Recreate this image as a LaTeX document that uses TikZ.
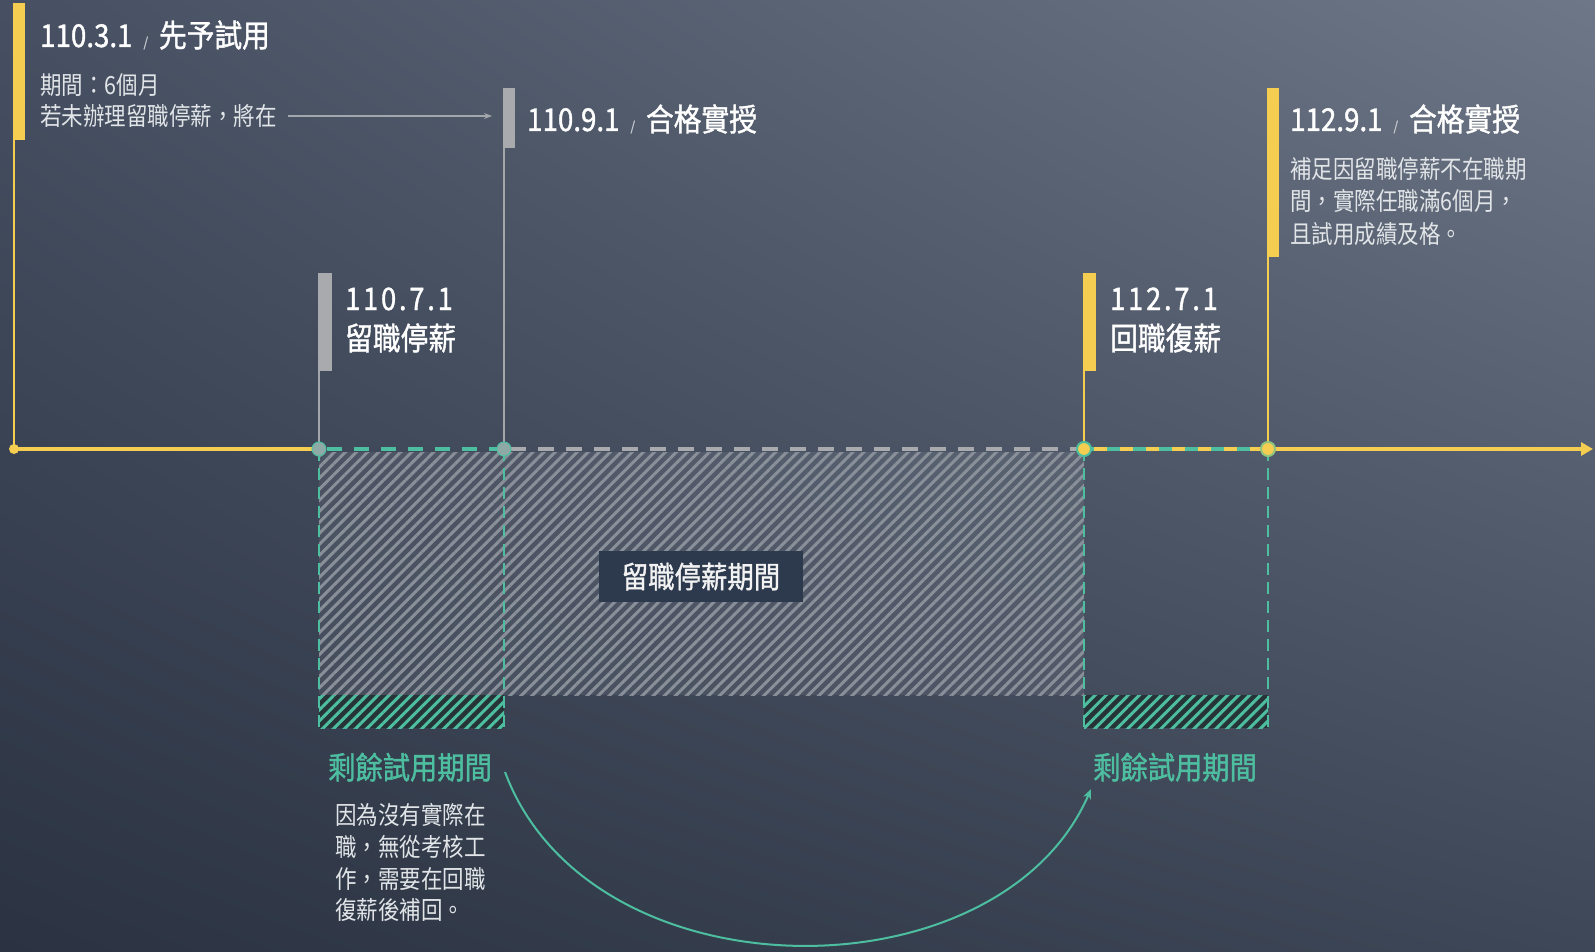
\documentclass[tikz,border=0pt]{standalone}
\usepackage{fontspec}
\setmainfont{Noto Sans CJK TC}
\newfontfamily\titlefam{Noto Sans CJK TC}[FakeStretch=0.88,FakeBold=1.2]
\newfontfamily\bodyfam{Noto Sans CJK TC}[FakeStretch=0.86]
\newfontfamily\datefam{Noto Sans CJK TC}[FakeStretch=0.88,FakeBold=1.2,LetterSpace=9]
\usetikzlibrary{arrows.meta,patterns.meta,shadings}
\definecolor{ylw}{HTML}{F5CD50}
\definecolor{tl}{HTML}{4DBFA0}
\definecolor{gbar}{HTML}{A8AAAD}
\definecolor{gline}{HTML}{A3A6AB}
\definecolor{bodytxt}{HTML}{E2E5E8}
\definecolor{hatchgray}{HTML}{8A909A}
\definecolor{labelbox}{HTML}{2D3A4E}
\definecolor{greenbg}{HTML}{263438}
\definecolor{dotgray}{HTML}{8FA9A6}
\definecolor{sepc}{HTML}{C8CBD0}
\definecolor{bgTL}{HTML}{465062}
\definecolor{bgTR}{HTML}{6E7787}
\definecolor{bgBL}{HTML}{2B3342}
\definecolor{bgBR}{HTML}{3E4757}
\newcommand{\sepsl}{\hspace{11pt}{\fontsize{13}{13}\selectfont\color{sepc}/}\hspace{11pt}}
\tikzset{
  ttl/.style={anchor=base west, inner sep=0pt, text=white, font=\titlefam\fontsize{31.5}{36}\selectfont},
  datettl/.style={anchor=base west, inner sep=0pt, text=white, font=\datefam\fontsize{31}{36}\selectfont},
  bodytext/.style={anchor=base west, inner sep=0pt, text=bodytxt, font=\bodyfam\fontsize{25}{32}\selectfont},
  greenttl/.style={anchor=base west, inner sep=0pt, text=tl, font=\titlefam\fontsize{31}{36}\selectfont},
  barnode/.style={anchor=north west, inner sep=0pt, minimum width=12pt},
  tline/.style={line width=4.5pt},
  yvline/.style={ylw, line width=2.5pt},
  gvline/.style={gline, line width=1.5pt},
  tdash/.style={tl, line width=2pt, dash pattern=on 12pt off 7pt},
  hatch/.style={pattern={Lines[angle=45,distance=7.8pt,line width=3pt]}},
}
\begin{document}
\begin{tikzpicture}[x=1pt,y=-1pt]
\useasboundingbox (0,0) rectangle (1595,952);
\shade[shading=bilinear interpolation, upper left=bgTL, upper right=bgTR, lower left=bgBL, lower right=bgBR] (0,0) rectangle (1595,952);

% timeline points
\coordinate (p0) at (14,449);
\coordinate (p1) at (319,449);
\coordinate (p2) at (504,449);
\coordinate (p3) at (1084,449);
\coordinate (p4) at (1268,449);
\coordinate (pend) at (1593,449);
\coordinate (q1) at (319,728);
\coordinate (q2) at (504,728);
\coordinate (q3) at (1084,728);
\coordinate (q4) at (1268,728);

% hatched regions
\fill[white,opacity=0.07] (319,452) rectangle (1084,695);
\fill[hatch, pattern color=hatchgray] (319,452) rectangle (1084,695);
\fill[greenbg] (319,695) rectangle (504,728);
\fill[hatch, pattern color=tl] (319,695) rectangle (504,728);
\fill[greenbg] (1084,695) rectangle (1268,728);
\fill[hatch, pattern color=tl] (1084,695) rectangle (1268,728);
\draw[tdash] (p1) -- (q1);
\draw[tdash] (p2) -- (q2);
\draw[tdash] (p3) -- (q3);
\draw[tdash] (p4) -- (q4);

% bars
\node[barnode, fill=ylw, minimum height=137pt] (bar1) at (13,3) {};
\node[barnode, fill=gbar, minimum height=60pt] (bar2) at (503,88) {};
\node[barnode, fill=ylw, minimum height=169pt] (bar3) at (1267,88) {};
\node[barnode, fill=gbar, minimum width=14pt, minimum height=98pt] (bar4) at (318,273) {};
\node[barnode, fill=ylw, minimum width=13pt, minimum height=98pt] (bar5) at (1083,273) {};

\draw[yvline] (bar1.south -| p0) -- (p0);
\draw[gvline] (bar2.south -| p2) -- (p2);
\draw[yvline] (bar3.south -| p4) -- (p4);
\draw[gvline] (bar4.south -| p1) -- (p1);
\draw[yvline] (bar5.south -| p3) -- (p3);

% timeline
\draw[tline, ylw] (p0) -- (p1);
\draw[tline, tl, dash pattern=on 15pt off 12pt, dash phase=-8pt] (p1) -- (p2);
\draw[tline, gbar, dash pattern=on 16pt off 12pt, dash phase=-6pt] (p2) -- (p3);
\draw[tline, tl] (p3) -- (p4);
\draw[tline, ylw, dash pattern=on 13pt off 13pt, dash phase=-10pt] (p3) -- (p4);
\draw[tline, ylw, -{Triangle[length=12pt,width=13pt]}] (p4) -- (pend);

% dots
\fill[ylw] (p0) circle (5);
\filldraw[fill=dotgray, draw=tl, line width=1pt] (p1) circle (7);
\filldraw[fill=dotgray, draw=tl, line width=1pt] (p2) circle (7);
\filldraw[fill=ylw, draw=tl, line width=2pt] (p3) circle (7);
\filldraw[fill=ylw, draw=tl!60!ylw, line width=2pt] (p4) circle (7);

% texts top-left
\node[ttl] (t1) at (40,47) {110.3.1\sepsl 先予試用};
\node[bodytext] (d1a) at (40,95) {期間：6個月};
\node[bodytext] (d1b) at (40,126) {若未辦理留職停薪，將在};
\coordinate (a1s) at (288,116);
\coordinate (a1e) at (492,116);
\draw[gline, line width=1.2pt, -{Stealth[length=8pt,width=6pt]}] (a1s) -- (a1e);

\node[ttl] (t2) at (527,131) {110.9.1\sepsl 合格實授};
\node[ttl] (t3) at (1290,131) {112.9.1\sepsl 合格實授};
\node[bodytext] (d3a) at (1290,179) {補足因留職停薪不在職期};
\node[bodytext] (d3b) at (1290,211) {間，實際任職滿6個月，};
\node[bodytext] (d3c) at (1290,243) {且試用成績及格。};

\node[datettl] (t4a) at (345,310) {110.7.1};
\node[ttl] (t4b) at (345,350) {留職停薪};
\node[datettl] (t5a) at (1110,310) {112.7.1};
\node[ttl] (t5b) at (1110,350) {回職復薪};

% center label
\node[fill=labelbox, minimum width=204pt, minimum height=51pt, inner sep=0pt, text=white!90!gray,
      font=\titlefam\fontsize{30}{30}\selectfont] (lbl) at (701,576.5) {留職停薪期間};

% bottom texts
\node[greenttl] (g1) at (328,779) {剩餘試用期間};
\node[bodytext] (b1a) at (335,824) {因為沒有實際在};
\node[bodytext] (b1b) at (335,856) {職，無從考核工};
\node[bodytext] (b1c) at (335,888) {作，需要在回職};
\node[bodytext] (b1d) at (335,919) {復薪後補回。};
\node[greenttl] (g2) at (1093,779) {剩餘試用期間};

% curve
\coordinate (cs) at (505,772);
\coordinate (ce) at (1091,789);
\draw[tl, line width=2pt, -{Stealth[length=10pt,width=8pt]}] (cs) .. controls (590,1000) and (1000,1000) .. (ce);
\end{tikzpicture}
\end{document}
